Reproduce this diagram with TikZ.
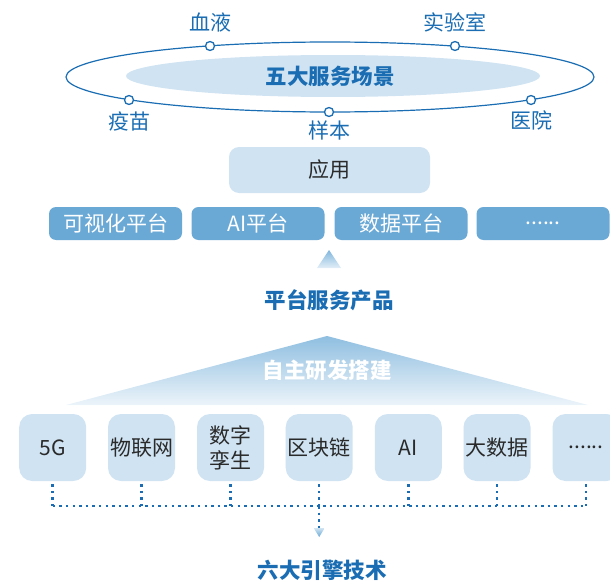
\documentclass[tikz,border=0pt]{standalone}
\usepackage{fontspec}
\setmainfont{Noto Sans CJK SC}
\usetikzlibrary{shapes.geometric}
\definecolor{tblue}{HTML}{1A6DB3}
\definecolor{pale}{HTML}{CFE3F2}
\definecolor{midb}{HTML}{6AA9D6}
\definecolor{txt}{HTML}{2A2A2A}
\tikzset{
  lbl/.style={text=tblue, font=\fontsize{21}{25}\selectfont},
  blbl/.style={text=tblue, font=\fontsize{21.5}{25}\selectfont\bfseries},
  dotc/.style={circle, draw=tblue, fill=white, line width=1.3pt, minimum size=9pt, inner sep=0pt},
  appbox/.style={rounded corners=10pt, fill=pale, minimum width=201pt, minimum height=46pt, text=txt, inner sep=0pt},
  platbox/.style={rounded corners=7pt, fill=midb, minimum width=133pt, minimum height=33pt, text=white, inner sep=0pt},
  techbox/.style={rounded corners=13pt, fill=pale, minimum width=67pt, minimum height=67pt, text=txt, inner sep=0pt, align=center, font=\fontsize{21}{25}\selectfont},
  dotl/.style={draw=tblue, line width=2.5pt, dash pattern=on 2.5pt off 4.1pt},
}
\begin{document}
\begin{tikzpicture}[x=1pt,y=-1pt, font=\fontsize{21}{25}\selectfont]
\useasboundingbox (0,0) rectangle (610,586);
% scenes ellipse
\fill[pale] (333,76) ellipse [x radius=207, y radius=21];
\draw[tblue, line width=1.2pt] (330,77) ellipse [x radius=264, y radius=35];
\node[blbl] (scene) at (330,76) {五大服务场景};
\node[dotc] (c1) at (210,46) {};
\node[dotc] (c2) at (455,46) {};
\node[dotc] (c3) at (129,100) {};
\node[dotc] (c4) at (329,112) {};
\node[dotc] (c5) at (531,100) {};
\node[lbl] (l1) at (210,22) {血液};
\node[lbl] (l2) at (455,22) {实验室};
\node[lbl] (l3) at (129,121) {疫苗};
\node[lbl] (l4) at (329,130) {样本};
\node[lbl] (l5) at (531,120) {医院};
% application
\node[appbox] (app) at (329.5,170) {应用};
\node[platbox] (p1) at (115.5,223.5) {可视化平台};
\node[platbox] (p2) at (258,223.5) {AI平台};
\node[platbox] (p3) at (401,223.5) {数据平台};
\node[platbox] (p4) at (543,223.5) {......};
% small triangle
\shade[top color=midb!85, bottom color=pale!60] (329,250) -- (341,268) -- (317,268) -- cycle;
\node[blbl] (plat) at (329,300) {平台服务产品};
% big triangle
\shade[top color=midb!75, bottom color=pale!40] (327,336) -- (588,405) -- (66,405) -- cycle;
\node[text=white, font=\fontsize{21.5}{25}\selectfont\bfseries] (self) at (327,370) {自主研发搭建};
% tech boxes
\node[techbox] (t1) at (52.7,447.5) {5G};
\node[techbox] (t2) at (141.5,447.5) {物联网};
\node[techbox] (t3) at (230.5,447.5) {数字\\孪生};
\node[techbox] (t4) at (319.2,447.5) {区块链};
\node[techbox] (t5) at (408.3,447.5) {AI};
\node[techbox] (t6) at (497,447.5) {大数据};
\node[techbox] (t7) at (586,447.5) {......};
% dotted connectors
\foreach \i in {1,...,7} {
  \coordinate (b\i) at ([yshift=-3pt]t\i.south);
  \coordinate (h\i) at (t\i.south |- 0,506);
  \draw[dotl] (b\i) -- (h\i);
}
\draw[dotl] (h1) -- (h7);
\coordinate (arrtop) at (319.2,528);
\draw[dotl] (h4) -- (arrtop);
\shade[top color=pale, bottom color=midb] (313.7,528) -- (324.7,528) -- (319.2,537) -- cycle;
\node[blbl] (engine) at (322,570) {六大引擎技术};
\end{tikzpicture}
\end{document}
